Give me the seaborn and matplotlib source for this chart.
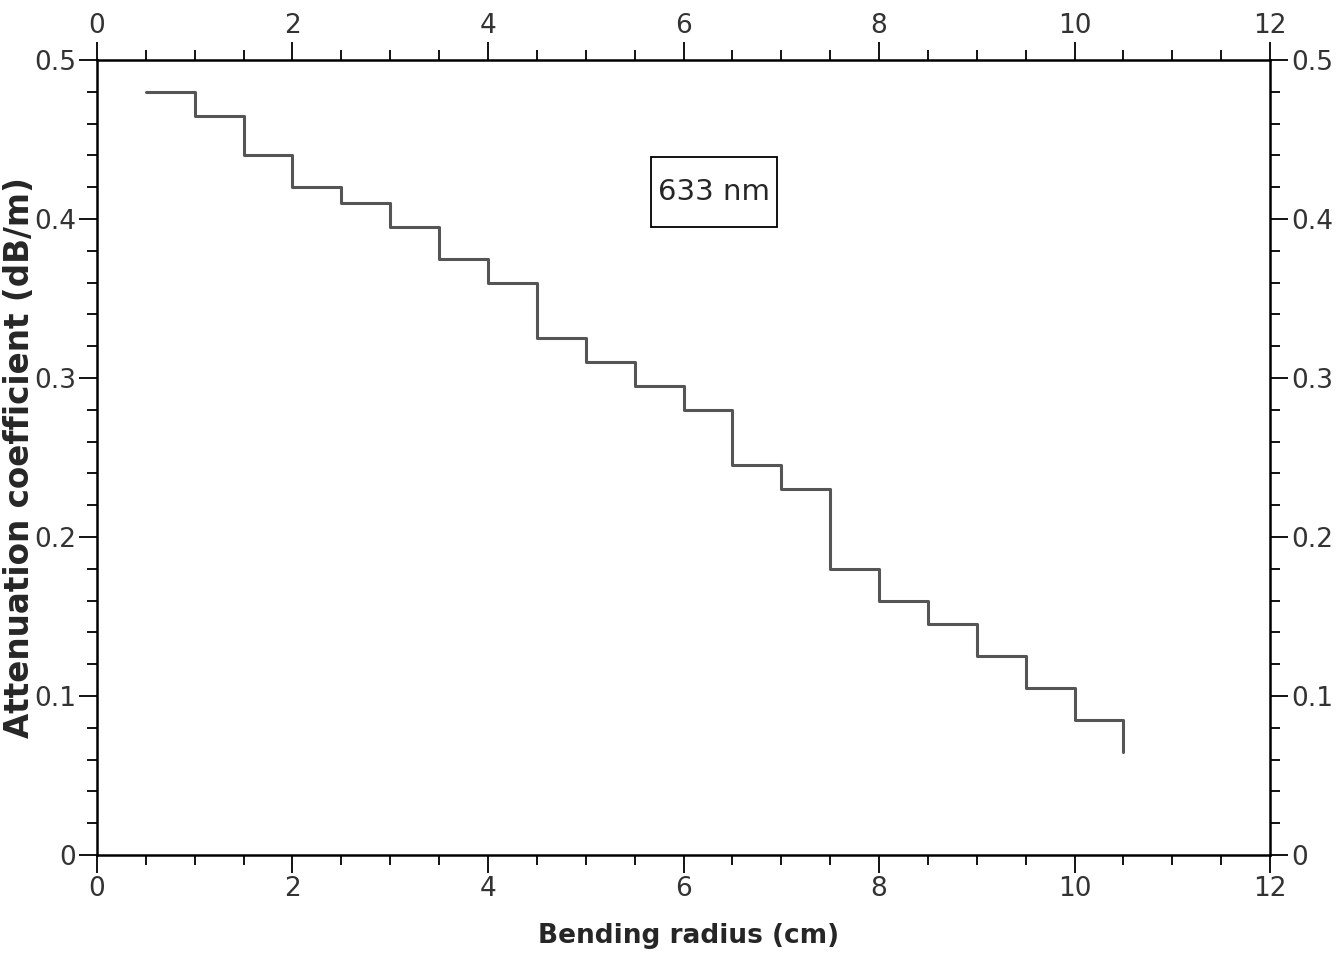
import numpy as np
import pandas as pd
import seaborn as sns
import matplotlib
matplotlib.use("Agg")
import matplotlib.pyplot as plt
import matplotlib.patches as patches
from matplotlib.ticker import MultipleLocator

# bending radius (cm) where each step starts, and the attenuation on that step
radius = [0.5, 1.0, 1.5, 2.0, 2.5, 3.0, 3.5, 4.0, 4.5, 5.0, 5.5,
          6.0, 6.5, 7.0, 7.5, 8.0, 8.5, 9.0, 9.5, 10.0, 10.5]
attenuation = [0.48, 0.465, 0.44, 0.42, 0.41, 0.395, 0.375, 0.36, 0.325, 0.31, 0.295,
               0.28, 0.245, 0.23, 0.18, 0.16, 0.145, 0.125, 0.105, 0.085, 0.065]
wavelength_label = "633 nm"

df = pd.DataFrame({"radius": radius, "att": attenuation})

sns.set_style("ticks")
plt.rcParams['font.family'] = ['DejaVu Sans']

fig = plt.figure(figsize=(13.43, 9.57), dpi=100)
ax = fig.add_axes([0.0722, 0.1066, 0.8735, 0.8307])

# step line
sns.lineplot(data=df, x="radius", y="att", ax=ax, estimator=None, sort=False,
             drawstyle="steps-post", color="#555555", linewidth=2.2)

ax.set_xlim(0, 12)
ax.set_ylim(0, 0.5)
ax.xaxis.set_major_locator(MultipleLocator(2))
ax.xaxis.set_minor_locator(MultipleLocator(0.5))
ax.yaxis.set_minor_locator(MultipleLocator(0.02))
ax.set_yticks([0, 0.1, 0.2, 0.3, 0.4, 0.5])
ax.set_yticklabels(["0", "0.1", "0.2", "0.3", "0.4", "0.5"])

ax.tick_params(which="both", direction="out", top=True, right=True,
               labeltop=True, labelright=True, color="black", width=1.3)
ax.tick_params(which="major", length=13, labelsize=19, labelcolor="#333333", pad=2)
ax.tick_params(which="minor", length=7)

for sp in ax.spines.values():
    sp.set_linewidth(1.8)
    sp.set_color("black")

ax.set_xlabel("Bending radius (cm)", fontsize=19, fontweight="bold")
ax.xaxis.set_label_coords(0.504, -0.085)
ax.set_ylabel("Attenuation coefficient (dB/m)", fontsize=23.5, fontweight="bold")
ax.yaxis.set_label_coords(-0.052, 0.5)

# label box
ax.add_patch(patches.Rectangle((5.67, 0.395), 1.29, 0.044, transform=ax.transData,
                               facecolor="white", edgecolor="black", linewidth=1.3, zorder=3))
ax.text(6.31, 0.417, wavelength_label, fontsize=21, ha="center", va="center", zorder=4)

fig.savefig("out.png", dpi=100)
